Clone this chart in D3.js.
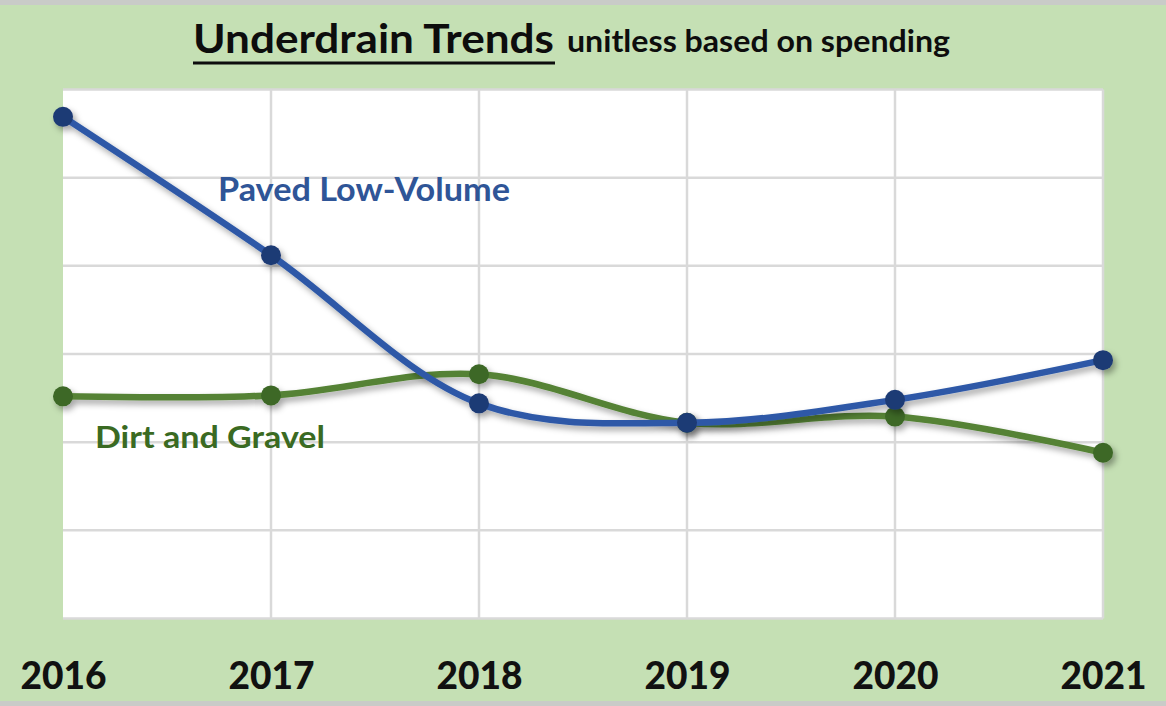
<!DOCTYPE html>
<html>
<head>
<meta charset="utf-8">
<script src="https://cdn.jsdelivr.net/npm/d3@7"></script>
<style>
  html, body { margin: 0; padding: 0; background: #c5e0b4; }
  svg { display: block; font-family: Lato, "Open Sans", sans-serif; }
</style>
</head>
<body>
<div id="chart"></div>
<script>
const years = ['2016', '2017', '2018', '2019', '2020', '2021'];
const paved = [5.69, 4.12, 2.44, 2.22, 2.48, 2.93];
const dirt = [2.52, 2.53, 2.77, 2.22, 2.29, 1.88];
const yTicks = [0, 1, 2, 3, 4, 5, 6];

const width = 1166, height = 706;
const plot = { left: 63, right: 1103, top: 89.5, bottom: 618.5 };

const svg = d3.select('#chart')
  .append('svg')
  .attr('width', width)
  .attr('height', height);

const defs = svg.append('defs');
defs.append('filter')
  .attr('id', 'shadow')
  .attr('x', '-20%').attr('y', '-20%')
  .attr('width', '140%').attr('height', '140%')
  .append('feDropShadow')
  .attr('dx', 3).attr('dy', 4)
  .attr('stdDeviation', 3)
  .attr('flood-color', '#000')
  .attr('flood-opacity', 0.35);

// page background + thin grey frame bands
svg.append('rect').attr('width', width).attr('height', height).attr('fill', '#c5e0b4');
svg.append('rect').attr('width', width).attr('height', 5).attr('fill', '#c9cbc8');
svg.append('rect').attr('y', 701).attr('width', width).attr('height', 5).attr('fill', '#c9cbc8');

const x = d3.scalePoint()
  .domain(years)
  .range([plot.left, plot.right]);

const y = d3.scaleLinear()
  .domain([0, 6])
  .range([plot.bottom, plot.top]);

// plot area
svg.append('rect')
  .attr('x', plot.left)
  .attr('y', plot.top)
  .attr('width', plot.right - plot.left)
  .attr('height', plot.bottom - plot.top)
  .attr('fill', '#fff');

const grid = svg.append('g').attr('class', 'grid');

grid.selectAll('line.h')
  .data(yTicks)
  .join('line')
  .attr('class', 'h')
  .attr('x1', plot.left)
  .attr('x2', plot.right)
  .attr('y1', d => y(d))
  .attr('y2', d => y(d))
  .attr('stroke', '#d9d9d9')
  .attr('stroke-width', 2.5);

grid.selectAll('line.v')
  .data(years.slice(1))
  .join('line')
  .attr('class', 'v')
  .attr('x1', d => x(d))
  .attr('x2', d => x(d))
  .attr('y1', plot.top)
  .attr('y2', plot.bottom)
  .attr('stroke', '#d9d9d9')
  .attr('stroke-width', 2.5);

// x axis labels
const xAxis = d3.axisBottom(x).tickSize(0).tickPadding(0);
const gx = svg.append('g')
  .attr('transform', `translate(0,${plot.bottom})`)
  .call(xAxis);
gx.select('.domain').remove();
gx.selectAll('text')
  .attr('y', 70)
  .attr('dy', 0)
  .attr('fill', '#111')
  .attr('font-family', 'Lato, sans-serif')
  .attr('font-weight', 900)
  .attr('font-size', 37)
  .attr('textLength', 86)
  .attr('lengthAdjust', 'spacingAndGlyphs');

// series
const series = [
  { name: 'Dirt and Gravel', values: dirt, line: '#548235', marker: '#3d6827' },
  { name: 'Paved Low-Volume', values: paved, line: '#2e59a7', marker: '#1f3a74' }
];

const line = d3.line()
  .x((d, i) => x(years[i]))
  .y(d => y(d))
  .curve(d3.curveCatmullRom.alpha(0.5));

series.forEach(s => {
  const g = svg.append('g').attr('filter', 'url(#shadow)');
  g.append('path')
    .datum(s.values)
    .attr('d', line)
    .attr('fill', 'none')
    .attr('stroke', s.line)
    .attr('stroke-width', 6.5)
    .attr('stroke-linecap', 'round');
  g.selectAll('circle')
    .data(s.values)
    .join('circle')
    .attr('cx', (d, i) => x(years[i]))
    .attr('cy', d => y(d))
    .attr('r', 10)
    .attr('fill', s.marker);
});

// series labels
svg.append('text')
  .attr('x', 218)
  .attr('y', 201)
  .attr('fill', '#2f5597')
  .attr('font-weight', 700)
  .attr('font-size', 32)
  .attr('textLength', 292)
  .attr('lengthAdjust', 'spacingAndGlyphs')
  .text('Paved Low-Volume');

svg.append('text')
  .attr('x', 95)
  .attr('y', 448)
  .attr('fill', '#3a6a22')
  .attr('font-weight', 700)
  .attr('font-size', 31)
  .attr('textLength', 230)
  .attr('lengthAdjust', 'spacingAndGlyphs')
  .text('Dirt and Gravel');

// title
svg.append('text')
  .attr('x', 193)
  .attr('y', 53)
  .attr('fill', '#0d0d0d')
  .attr('font-weight', 700)
  .attr('font-size', 41)
  .attr('textLength', 361)
  .attr('lengthAdjust', 'spacingAndGlyphs')
  .text('Underdrain Trends');

svg.append('line')
  .attr('x1', 193)
  .attr('x2', 555)
  .attr('y1', 63)
  .attr('y2', 63)
  .attr('stroke', '#0d0d0d')
  .attr('stroke-width', 3);

svg.append('text')
  .attr('x', 567)
  .attr('y', 52)
  .attr('fill', '#0d0d0d')
  .attr('font-weight', 700)
  .attr('font-size', 30)
  .attr('textLength', 383)
  .attr('lengthAdjust', 'spacingAndGlyphs')
  .text('unitless based on spending');
</script>
</body>
</html>
